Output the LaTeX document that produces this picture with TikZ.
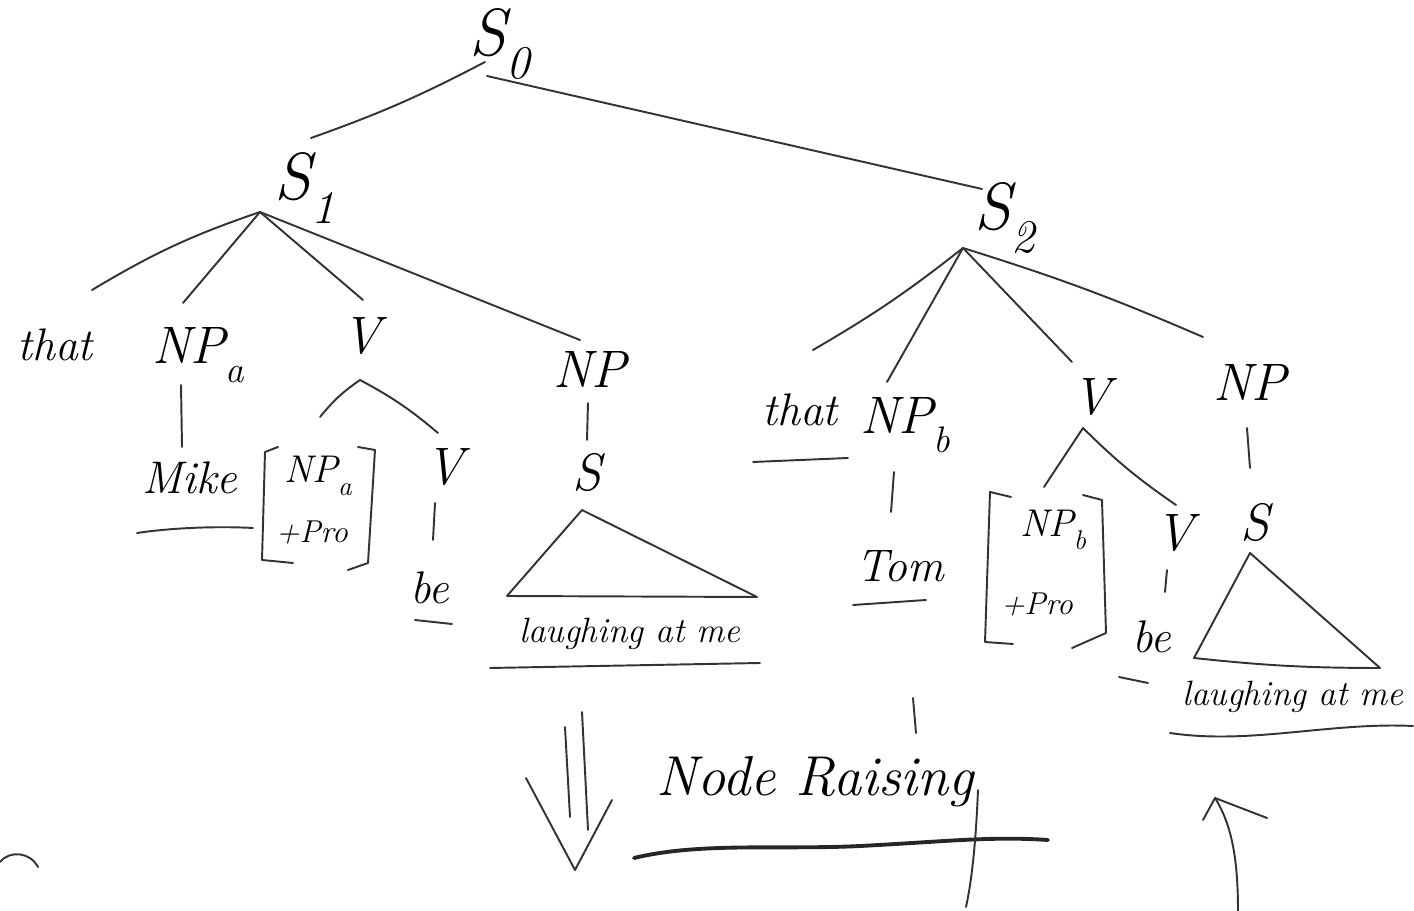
\documentclass[tikz,border=0pt]{standalone}
\newcommand{\sbx}[1]{\raisebox{-0.35em}{\scalebox{0.7}{#1}}}
\begin{document}
\begin{tikzpicture}[x=0.02cm,y=-0.02cm,
  ink/.style={draw=black!80, line width=1.1pt, line cap=round, line join=round},
  thick ink/.style={draw=black!85, line width=2.2pt, line cap=round},
  big/.style={font=\fontsize{38}{40}\selectfont\itshape, inner sep=0pt},
  cat/.style={font=\fontsize{30}{32}\selectfont\itshape, inner sep=0pt},
  smallcat/.style={font=\fontsize{22}{24}\selectfont\itshape, inner sep=0pt},
  word/.style={font=\fontsize{26}{28}\selectfont\itshape, inner sep=0pt},
  smallword/.style={font=\fontsize{20}{22}\selectfont\itshape, inner sep=0pt},
  feat/.style={font=\fontsize{18}{20}\selectfont\itshape, inner sep=0pt},
  title/.style={font=\fontsize{32}{34}\selectfont\itshape, inner sep=0pt}]
\fill[white] (0,0) rectangle (1414,911);
\useasboundingbox (0,0) rectangle (1414,911);

% ---------- labels ----------
\node[big] (S0) at (500,44) {S\sbx{0}};
\node[big] (S1) at (305,188) {S\sbx{1}};
\node[big] (S2) at (1005,218) {S\sbx{2}};

\node[word] (that1) at (55,345) {that};
\node[cat] (NPa) at (198,355) {NP\sbx{a}};
\node[word] (Mike) at (190,478) {Mike};
\node[cat] (V1) at (362,336) {V};
\node[smallcat] (NPaPro) at (318,476) {NP\sbx{a}};
\node[feat] (Pro1) at (312,533) {+Pro};
\node[cat] (V1b) at (445,467) {V};
\node[word] (be1) at (430,588) {be};
\node[cat] (NP1) at (590,370) {NP};
\node[cat] (S1b) at (587,473) {S};
\node[smallword] (laugh1) at (630,634) {laughing at me};

\node[word] (that2) at (800,410) {that};
\node[cat] (NPb) at (905,425) {NP\sbx{b}};
\node[word] (Tom) at (900,566) {Tom};
\node[cat] (V2) at (1092,397) {V};
\node[smallcat] (NPbPro) at (1053,530) {NP\sbx{b}};
\node[feat] (Pro2) at (1037,605) {+Pro};
\node[cat] (V2b) at (1175,533) {V};
\node[word] (be2) at (1152,637) {be};
\node[cat] (NP2) at (1250,383) {NP};
\node[cat] (S2b) at (1255,523) {S};
\node[smallword] (laugh2) at (1293,697) {laughing at me};

\node[title] (NR) at (815,782) {Node Raising};

% ---------- connector end points ----------
\coordinate (S0l) at (485,62);   \coordinate (S1t) at (311,138);
\coordinate (S0r) at (487,76);   \coordinate (S2t) at (982,189);
\coordinate (S1f) at (260,212);
\coordinate (that1t) at (92,290);  \coordinate (NPat) at (183,303);
\coordinate (V1t) at (363,300);    \coordinate (NP1t) at (580,340);
\coordinate (NPab) at (181,385);   \coordinate (Miket) at (182,447);
\coordinate (V1a) at (360,380);    \coordinate (V1al) at (320,417); \coordinate (V1ar) at (438,433);
\coordinate (V1bb) at (435,503);   \coordinate (be1t) at (433,540);
\coordinate (NP1b) at (588,403);   \coordinate (S1bt) at (587,440);
\coordinate (T1a) at (582,510); \coordinate (T1l) at (507,596); \coordinate (T1r) at (757,597);
\coordinate (S2f) at (963,248);
\coordinate (that2t) at (813,350); \coordinate (NPbt) at (887,382);
\coordinate (V2t) at (1072,362);   \coordinate (NP2t) at (1203,337);
\coordinate (NPbb) at (894,472);   \coordinate (Tomt) at (891,512);
\coordinate (V2a) at (1083,428);   \coordinate (V2al) at (1044,487); \coordinate (V2ar) at (1176,505);
\coordinate (V2bb) at (1167,570);  \coordinate (be2t) at (1165,592);
\coordinate (NP2b) at (1247,428);  \coordinate (S2bt) at (1250,468);
\coordinate (T2a) at (1250,553); \coordinate (T2l) at (1194,658); \coordinate (T2r) at (1380,668);

% ---------- tree branches ----------
\draw[ink] (S0l) to[bend left=4] (S1t);
\draw[ink] (S0r) -- (S2t);
\draw[ink] (S1f) to[bend right=6] (that1t);
\draw[ink] (S1f) -- (NPat);
\draw[ink] (S1f) -- (V1t);
\draw[ink] (S1f) -- (NP1t);
\draw[ink] (NPab) -- (Miket);
\draw[ink] (V1al) to[bend left=8] (V1a) to[bend left=6] (V1ar);
\draw[ink] (V1bb) -- (be1t);
\draw[ink] (NP1b) -- (S1bt);
\draw[ink] (T1a) -- (T1l) -- (T1r) -- cycle;

\draw[ink] (S2f) to[bend left=4] (that2t);
\draw[ink] (S2f) -- (NPbt);
\draw[ink] (S2f) -- (V2t);
\draw[ink] (S2f) to[bend left=3] (NP2t);
\draw[ink] (NPbb) -- (Tomt);
\draw[ink] (V2al) -- (V2a) to[bend right=5] (V2ar);
\draw[ink] (V2bb) -- (be2t);
\draw[ink] (NP2b) -- (S2bt);
\draw[ink] (T2a) -- (T2l) to[bend right=3] (T2r) -- cycle;

% ---------- brackets ----------
\draw[ink] (278,447) -- (265,452) -- (262,560) -- (293,563);
\draw[ink] (358,447) -- (375,450) -- (368,563) -- (348,570);
\draw[ink] (1011,497) -- (990,492) -- (985,642) -- (1013,644);
\draw[ink] (1083,495) -- (1102,500) -- (1106,633) -- (1072,648);

% ---------- underlines ----------
\draw[ink] (137,533) .. controls (170,528) and (215,526) .. (253,528);
\draw[ink] (415,620) -- (452,624);
\draw[ink] (490,668) -- (760,663);
\draw[ink] (753,462) -- (848,458);
\draw[ink] (853,605) -- (926,600);
\draw[ink] (1119,677) -- (1148,683);
\draw[ink] (1170,733) .. controls (1250,745) and (1330,722) .. (1413,726);
\draw[ink] (913,698) -- (916,733);

% ---------- Node Raising ----------
\coordinate (A1t) at (565,727); \coordinate (A1b) at (570,817);
\coordinate (A2t) at (582,712); \coordinate (A2b) at (588,830);
\coordinate (Ahl) at (526,778); \coordinate (Ahtip) at (575,870); \coordinate (Ahr) at (612,800);
\draw[ink] (A1t) -- (A1b);
\draw[ink] (A2t) -- (A2b);
\draw[ink] (Ahl) -- (Ahtip) -- (Ahr);
\draw[thick ink] (634,858) .. controls (700,842) and (780,850) .. (860,846) .. controls (940,842) and (990,836) .. (1048,840);
\draw[ink] (978,790) .. controls (976,840) and (972,880) .. (966,907);

% ---------- arrow at right ----------
\coordinate (Upb) at (1238,911); \coordinate (Uptip) at (1215,798);
\draw[ink] (Upb) .. controls (1238,860) and (1232,825) .. (Uptip);
\draw[ink] (1203,820) -- (Uptip) -- (1267,818);

% ---------- fragment bottom left ----------
\draw[ink] (0,862) .. controls (10,850) and (30,852) .. (38,867);
\end{tikzpicture}
\end{document}
